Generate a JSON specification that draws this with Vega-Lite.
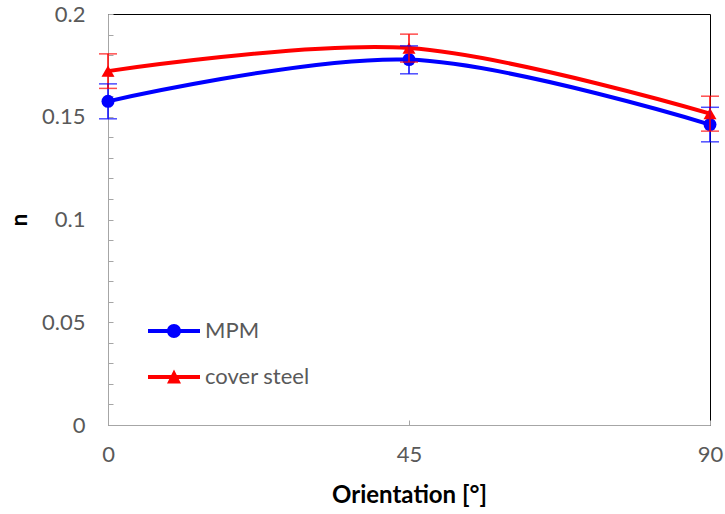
{
  "$schema": "https://vega.github.io/schema/vega-lite/v6.json",
  "width": 602,
  "height": 411,
  "autosize": {"type": "none"},
  "padding": {"left": 108, "top": 14, "right": 15, "bottom": 89},
  "background": "white",
  "config": {
    "view": {"stroke": "black", "strokeWidth": 1},
    "font": "Lato",
    "axis": {
      "grid": false,
      "domainColor": "#a6a6a6",
      "tickColor": "#a6a6a6",
      "labelColor": "#595959",
      "labelFont": "Lato",
      "labelFontSize": 22,
      "labelOverlap": false,
      "labelFlush": false,
      "titleFont": "Lato",
      "titleFontSize": 22,
      "titleFontWeight": "bold",
      "titleColor": "#000000"
    }
  },
  "data": {
    "values": [
      {"series": "MPM", "angle": 0, "n": 0.1575, "lo": 0.149, "hi": 0.166},
      {"series": "MPM", "angle": 45, "n": 0.1778, "lo": 0.1709, "hi": 0.1845},
      {"series": "MPM", "angle": 90, "n": 0.1462, "lo": 0.1378, "hi": 0.1546},
      {"series": "cover steel", "angle": 0, "n": 0.1722, "lo": 0.1638, "hi": 0.1806},
      {"series": "cover steel", "angle": 45, "n": 0.1834, "lo": 0.1766, "hi": 0.1902},
      {"series": "cover steel", "angle": 90, "n": 0.1515, "lo": 0.143, "hi": 0.16}
    ]
  },
  "encoding": {
    "x": {
      "field": "angle",
      "type": "quantitative",
      "scale": {"domain": [0, 90], "nice": false},
      "axis": {
        "values": [0, 45, 90],
        "tickSize": -5,
        "labelPadding": 24,
        "title": "Orientation [°]",
        "titleFontSize": 24,
        "titlePadding": 18
      }
    },
    "y": {
      "field": "n",
      "type": "quantitative",
      "scale": {"domain": [0, 0.2], "nice": false},
      "axis": {
        "values": [0, 0.01, 0.02, 0.03, 0.04, 0.05, 0.06, 0.07, 0.08, 0.09, 0.1, 0.11, 0.12, 0.13, 0.14, 0.15, 0.16, 0.17, 0.18, 0.19, 0.2],
        "labelExpr": "(round(datum.value*100) % 5 == 0) ? format(datum.value, '.2~f') : ''",
        "tickSize": -5,
        "labelPadding": 28,
        "title": "n",
        "titlePadding": 10
      }
    },
    "color": {
      "field": "series",
      "type": "nominal",
      "scale": {"domain": ["MPM", "cover steel"], "range": ["#0000FF", "#FF0000"]},
      "legend": {
        "title": null,
        "orient": "none",
        "legendX": 71,
        "legendY": 306,
        "padding": 0,
        "rowPadding": 24,
        "labelFont": "Lato",
        "labelFontSize": 22,
        "labelColor": "#595959",
        "labelOffset": 4,
        "symbolSize": 400,
        "symbolStrokeWidth": 0
      }
    }
  },
  "layer": [
    {
      "transform": [{"filter": "false"}],
      "mark": {"type": "point", "filled": true, "size": 400, "opacity": 1, "strokeWidth": 0},
      "encoding": {
        "shape": {
          "field": "series",
          "type": "nominal",
          "scale": {
            "domain": ["MPM", "cover steel"],
            "range": [
              "M-4.2,-0.2H1V0.2H-4.2Z M-0.9,0A0.7,0.7 0 1,1 -2.3,0A0.7,0.7 0 1,1 -0.9,0Z",
              "M-4.2,-0.2H1V0.2H-4.2Z M-1.6,-0.75L-0.9,0.65H-2.3Z"
            ]
          },
          "legend": {
            "title": null,
            "orient": "none",
            "legendX": 71,
            "legendY": 306,
            "padding": 0,
            "rowPadding": 24,
            "labelFont": "Lato",
            "labelFontSize": 22,
            "labelColor": "#595959",
            "labelOffset": 4,
            "symbolSize": 400,
            "symbolStrokeWidth": 0
          }
        }
      }
    },
    {
      "mark": {"type": "line", "interpolate": "catmull-rom", "strokeWidth": 4}
    },
    {
      "transform": [{"filter": "datum.series === 'MPM'"}],
      "mark": {"type": "point", "filled": true, "size": 169, "opacity": 1, "shape": "circle"}
    },
    {
      "transform": [{"filter": "datum.series === 'cover steel'"}],
      "mark": {"type": "point", "filled": true, "size": 169, "opacity": 1, "shape": "triangle-up"}
    },
    {
      "mark": {"type": "rule", "strokeWidth": 1.5},
      "encoding": {
        "y": {"field": "lo", "type": "quantitative"},
        "y2": {"field": "hi"}
      }
    },
    {
      "mark": {"type": "tick", "thickness": 1.5, "size": 18, "orient": "horizontal"},
      "encoding": {
        "y": {"field": "lo", "type": "quantitative"}
      }
    },
    {
      "mark": {"type": "tick", "thickness": 1.5, "size": 18, "orient": "horizontal"},
      "encoding": {
        "y": {"field": "hi", "type": "quantitative"}
      }
    }
  ]
}
